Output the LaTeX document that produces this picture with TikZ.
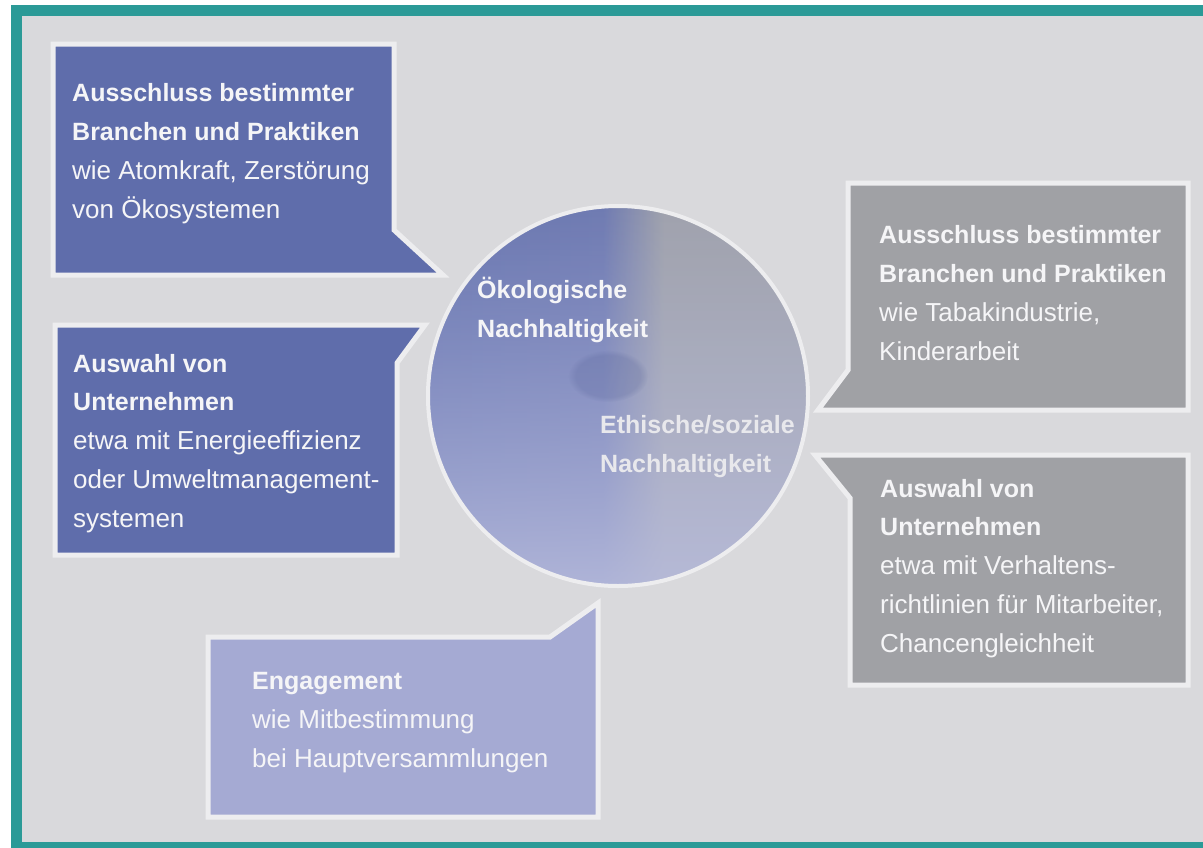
\documentclass[tikz,border=0pt]{standalone}
\usepackage{fontspec}
\setmainfont{Liberation Sans}
\usetikzlibrary{fadings}
\definecolor{teal1}{HTML}{2B9A97}
\definecolor{bg}{HTML}{D9D9DC}
\definecolor{edge}{HTML}{EDEDEF}
\definecolor{blueA}{HTML}{5F6DAB}
\definecolor{blueL}{HTML}{A5AAD3}
\definecolor{greyB}{HTML}{A0A1A5}
\definecolor{circBlue}{HTML}{5A6AB0}
\definecolor{circBlueM}{HTML}{6270B2}
\definecolor{circGrey}{HTML}{A2A4AB}
\definecolor{circLav}{HTML}{B8BCDC}
\definecolor{circTop}{HTML}{9A9EB4}
\definecolor{txtW}{HTML}{F5F5F7}
\definecolor{txtG}{HTML}{E8E8EC}
\pgfdeclarehorizontalshading{circsh}{100bp}{color(0bp)=(circBlue); color(25bp)=(circBlue); color(48bp)=(circBlueM); color(56bp)=(circGrey); color(75bp)=(circGrey); color(100bp)=(circGrey)}
\tikzfading[name=lowfade, top color=transparent!100, middle color=transparent!92, bottom color=transparent!10]
\tikzfading[name=topfade, top color=transparent!75, middle color=transparent!100, bottom color=transparent!100]
\newcommand{\hd}[1]{{\bfseries\fontsize{25}{38.7}\selectfont #1}}
\begin{document}
\begin{tikzpicture}[x=1pt,y=-1pt,
  callout/.style={line width=5pt, draw=edge, line join=miter},
  boxtext/.style={anchor=base west, inner sep=0pt, align=left, text=txtW, font=\fontsize{26}{38.7}\selectfont},
  circtext/.style={anchor=base west, inner sep=0pt, align=left, font=\bfseries\fontsize{25}{38.7}\selectfont},
]
\useasboundingbox (0,0) rectangle (1203,847);
\clip (0,0) rectangle (1203,847);
% frame
\fill[teal1] (11,5) rectangle (1215,860);
\fill[bg] (22,16) rectangle (1215,842);

% circle
\coordinate (cc) at (618,396);
\shade[shading=circsh] (cc) circle [radius=190pt];
\fill[circTop, path fading=topfade] (cc) circle [radius=190pt];
\fill[circLav, path fading=lowfade] (cc) circle [radius=190pt];
\fill[circBlue!80!black, opacity=0.2, path fading=circle with fuzzy edge 20 percent] (608,376) ellipse [x radius=40pt, y radius=26pt];
\draw[edge, line width=4pt] (cc) circle [radius=190pt];
% (base anchor of a multi-line node = baseline of its last line)
\node[circtext, text=txtW] (oek) at (477,337) {Ökologische\\Nachhaltigkeit};
\node[circtext, text=txtG] (eth) at (600,472) {Ethische/soziale\\Nachhaltigkeit};

% callouts
\draw[callout, fill=blueA] (53,44) -- (394,44) -- (394,230) -- (443,275) -- (53,275) -- cycle;
\draw[callout, fill=blueA] (55,325) -- (425,325) -- (397,363) -- (397,555) -- (55,555) -- cycle;
\draw[callout, fill=greyB] (848,183) -- (1188,183) -- (1188,410) -- (818,410) -- (848,370) -- cycle;
\draw[callout, fill=greyB] (815,455) -- (1188,455) -- (1188,685) -- (850,685) -- (850,498) -- cycle;
\draw[callout, fill=blueL] (208,637) -- (550,637) -- (598,603) -- (598,817) -- (208,817) -- cycle;

% texts
\node[boxtext] (t1) at (72,218) {\hd{Ausschluss bestimmter}\\\hd{Branchen und Praktiken}\\wie Atomkraft, Zerstörung\\von Ökosystemen};
\node[boxtext] (t2) at (73,527) {\hd{Auswahl von}\\\hd{Unternehmen}\\etwa mit Energieeffizienz\\oder Umweltmanagement-\\systemen};
\node[boxtext] (t3) at (879,360) {\hd{Ausschluss bestimmter}\\\hd{Branchen und Praktiken}\\wie Tabakindustrie,\\Kinderarbeit};
\node[boxtext] (t4) at (880,652) {\hd{Auswahl von}\\\hd{Unternehmen}\\etwa mit Verhaltens-\\richtlinien für Mitarbeiter,\\Chancengleichheit};
\node[boxtext] (t5) at (252,767) {\hd{Engagement}\\wie Mitbestimmung\\bei Hauptversammlungen};
\end{tikzpicture}
\end{document}
